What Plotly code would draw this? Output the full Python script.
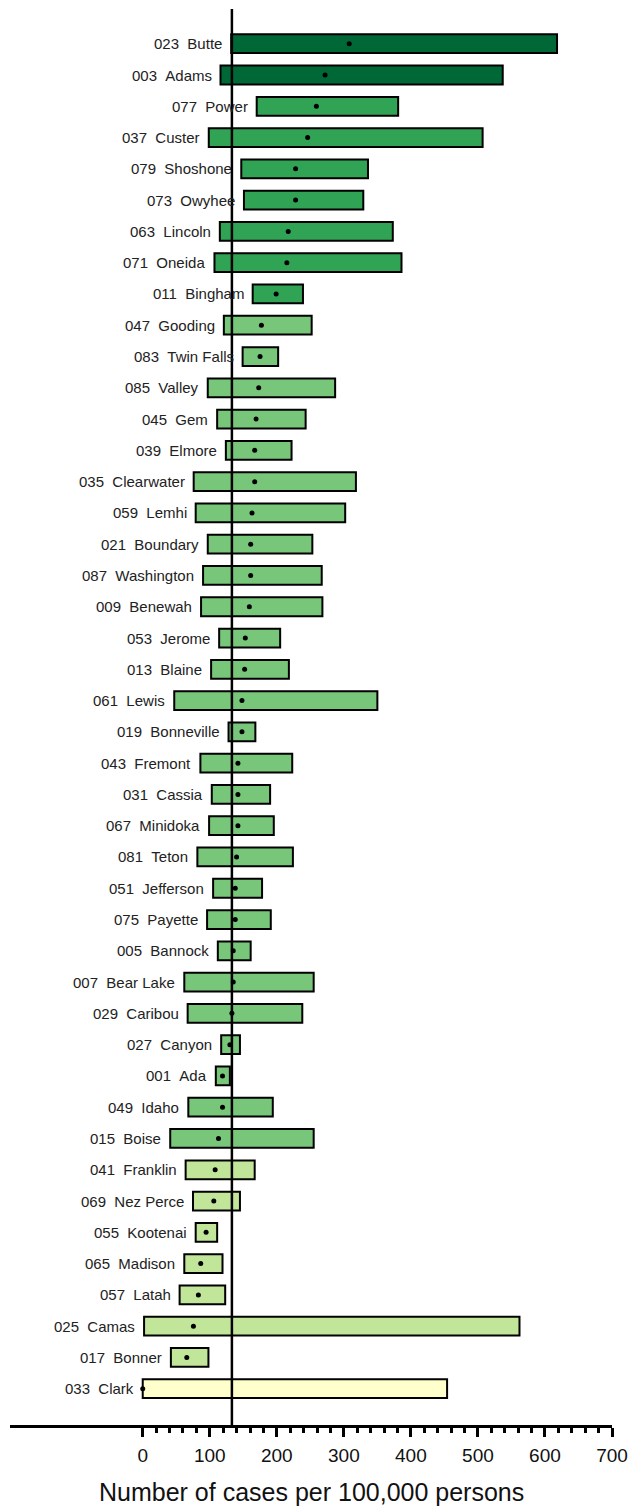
import plotly.graph_objects as go

codes = ["023", "003", "077", "037", "079", "073", "063", "071", "011", "047",
         "083", "085", "045", "039", "035", "059", "021", "087", "009", "053",
         "013", "061", "019", "043", "031", "067", "081", "051", "075", "005",
         "007", "029", "027", "001", "049", "015", "041", "069", "055", "065",
         "057", "025", "017", "033"]
counties = ["Butte", "Adams", "Power", "Custer", "Shoshone", "Owyhee", "Lincoln", "Oneida", "Bingham", "Gooding",
            "Twin Falls", "Valley", "Gem", "Elmore", "Clearwater", "Lemhi", "Boundary", "Washington", "Benewah", "Jerome",
            "Blaine", "Lewis", "Bonneville", "Fremont", "Cassia", "Minidoka", "Teton", "Jefferson", "Payette", "Bannock",
            "Bear Lake", "Caribou", "Canyon", "Ada", "Idaho", "Boise", "Franklin", "Nez Perce", "Kootenai", "Madison",
            "Latah", "Camas", "Bonner", "Clark"]
rate = [308, 272, 259, 246, 228, 228, 217, 215, 199, 177,
        175, 173, 169, 167, 167, 163, 161, 161, 159, 153,
        152, 148, 148, 142, 142, 142, 140, 138, 138, 135,
        135, 133, 130, 119, 119, 113, 108, 106, 94.5, 86.5,
        83, 75.6, 65.7, 0]
ci_low = [132, 116, 170, 98.5, 147, 151, 115, 107, 164, 121,
          149, 97, 111, 124, 76, 79, 97, 90, 87, 114,
          102, 47, 128, 86, 103, 99, 81.5, 105, 96, 112,
          62, 67, 117, 109, 68, 41, 64, 75, 79, 62,
          55, 2, 42, 0]
ci_high = [618, 537, 381, 507, 336, 329, 373, 386, 239, 252,
           202, 287, 243, 222, 318, 302, 253, 267, 268, 205,
           218, 350, 168, 223, 190, 195.5, 224, 178, 191, 161,
           255, 238, 145, 130, 194, 255, 167, 145, 111, 119,
           123, 562, 98, 454]
rate_class = [5, 5, 4, 4, 4, 4, 4, 4, 4, 3,
              3, 3, 3, 3, 3, 3, 3, 3, 3, 3,
              3, 3, 3, 3, 3, 3, 3, 3, 3, 3,
              3, 3, 3, 3, 3, 3, 2, 2, 2, 2,
              2, 2, 2, 1]
state_rate = 133
x_tick_vals = [0, 100, 200, 300, 400, 500, 600, 700]
x_tick_text = ["0", "100", "200", "300", "400", "500", "600", "700"]
x_title = "Number of cases per 100,000 persons"

class_colors = {1: "#ffffcc", 2: "#c2e699", 3: "#78c679", 4: "#31a354", 5: "#006837"}
FONT = "Arial, Liberation Sans, sans-serif"

n = len(counties)
idx = list(range(n))
labels = [f"{c}\u00a0\u00a0{name}" for c, name in zip(codes, counties)]

fig = go.Figure()
fig.add_trace(go.Bar(
    orientation="h",
    y=idx,
    x=[h - l for l, h in zip(ci_low, ci_high)],
    base=ci_low,
    width=0.6,
    marker=dict(color=[class_colors[k] for k in rate_class],
                line=dict(color="black", width=2)),
    showlegend=False,
    hoverinfo="skip",
))
fig.add_trace(go.Scatter(
    x=rate, y=idx, mode="markers",
    marker=dict(color="black", size=5),
    showlegend=False,
))

for i in idx:
    fig.add_annotation(x=ci_low[i], y=i, text=labels[i], showarrow=False,
                       xanchor="right", yanchor="middle", xshift=-7,
                       font=dict(family=FONT, size=15, color="#222"))

fig.add_annotation(x=0.5, xref="paper", y=0, yref="paper", yanchor="middle",
                   yshift=-67, text=x_title, showarrow=False,
                   font=dict(size=25, family=FONT, color="#111"))

fig.add_shape(type="line", x0=state_rate, x1=state_rate, xref="x",
              y0=0, y1=1, yref="paper", line=dict(color="black", width=2.5),
              layer="above")

minor_vals = [v for v in range(0, 701, 20) if v % 100 != 0]

fig.update_layout(
    width=631, height=1507,
    margin=dict(l=10, r=19, t=9, b=82, autoexpand=False),
    plot_bgcolor="white", paper_bgcolor="white",
    font=dict(family=FONT, color="#111"),
    xaxis=dict(
        range=[-198, 700], showgrid=False, zeroline=False, automargin=False,
        showline=True, linecolor="black", linewidth=2.5,
        tickmode="array", tickvals=x_tick_vals, ticktext=x_tick_text,
        ticks="outside", ticklen=9, tickwidth=2.5, tickcolor="black",
        ticklabelstandoff=2,
        tickfont=dict(size=19, family=FONT, color="#111"),
        minor=dict(tickmode="array", tickvals=minor_vals, ticks="outside",
                   ticklen=5, tickwidth=2.5, tickcolor="black"),
    ),
    yaxis=dict(
        range=[n - 1 + 1.16, -1.11], showgrid=False, zeroline=False, automargin=False,
        showline=False, showticklabels=False, ticks="",
    ),
)

fig.write_html("out.html", config={"displayModeBar": False},
               post_script="document.body.style.margin='0';document.body.style.overflow='hidden';")
